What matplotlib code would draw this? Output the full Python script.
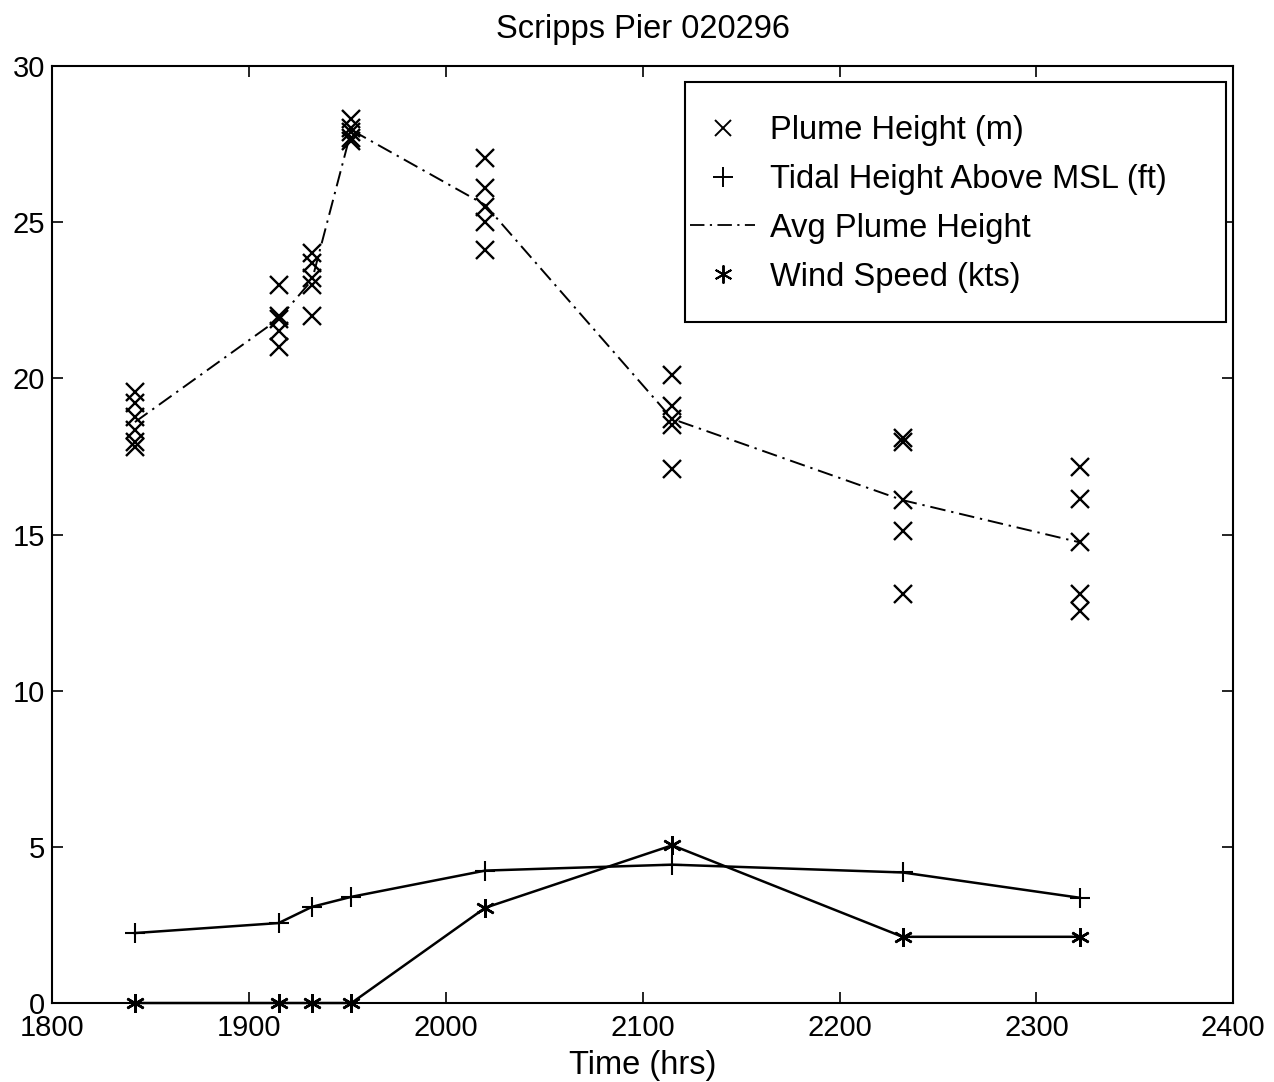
import matplotlib
matplotlib.use("Agg")
import matplotlib.pyplot as plt
import matplotlib.lines as mlines
from matplotlib.patches import Rectangle

plt.rcParams['font.family'] = ['Liberation Sans', 'DejaVu Sans']

# times of the samples (hrs)
times = [1842, 1915, 1932, 1952, 2020, 2115, 2232, 2322]

# individual plume heights (m) at each time
plume = [
    [19.55, 19.2, 18.75, 18.35, 17.95, 17.8],
    [23.0, 22.0, 21.9, 21.5, 21.0],
    [24.0, 23.7, 23.2, 23.0, 22.0],
    [28.3, 28.0, 27.9, 27.7, 27.6],
    [27.05, 26.1, 25.5, 25.0, 24.1],
    [20.1, 19.1, 18.7, 18.5, 17.1],
    [18.1, 17.95, 16.1, 15.1, 13.1],
    [17.15, 16.15, 14.75, 13.1, 12.55],
]
avg_plume = [18.6, 21.9, 23.15, 27.95, 25.55, 18.7, 16.1, 14.75]
tide = [2.24, 2.56, 3.08, 3.40, 4.24, 4.43, 4.18, 3.37]
wind = [0, 0, 0, 0, 3.05, 5.05, 2.12, 2.12]
labels = ['Plume Height (m)', 'Tidal Height Above MSL (ft)', 'Avg Plume Height', 'Wind Speed (kts)']

fig = plt.figure(figsize=(12.74, 10.82), dpi=100)
ax = fig.add_axes([0.041, 0.073, 0.927, 0.866])

star = (6, 2, 0)
dd = (8, 3, 1.2, 3)
px = [t for t, vals in zip(times, plume) for v in vals]
py = [v for vals in plume for v in vals]
ax.plot(px, py, 'kx', ms=12.5, mew=1.7, ls='none')
ax.plot(times, tide, 'k-', marker='+', ms=14, mew=1.5, lw=1.8)
ax.plot(times, avg_plume, color='k', lw=1.4, dashes=dd)
ax.plot(times, wind, 'k-', marker=star, ms=13.5, mew=1.8, lw=1.8, clip_on=False)

ax.set_xlim(1800, 2400)
ax.set_ylim(0, 30)
ax.set_xticks(range(1800, 2401, 100))
ax.set_yticks(range(0, 31, 5))
ax.tick_params(direction='in', top=True, right=True, labelsize=21, length=8, width=1.2)
ax.tick_params(axis='x', pad=8)
ax.tick_params(axis='y', pad=5)
for s in ax.spines.values():
    s.set_linewidth(1.5)

ax.set_title('Scripps Pier 020296', fontsize=23.5, pad=20)
ax.set_xlabel('Time (hrs)', fontsize=23.5, labelpad=6)

# legend box drawn separately (MATLAB-style padding)
ax.add_patch(Rectangle((0.536, 0.7268), 0.458, 0.256, transform=ax.transAxes,
                       fc='white', ec='k', lw=1.5, zorder=5))
h = [
    mlines.Line2D([], [], color='k', marker='x', ls='none', ms=12, mew=1.4),
    mlines.Line2D([], [], color='k', marker='+', ls='none', ms=14, mew=1.4),
    mlines.Line2D([], [], color='k', lw=1.3, dashes=dd),
    mlines.Line2D([], [], color='k', marker=star, ls='none', ms=13, mew=1.4),
]
leg = ax.legend(h, labels, loc='upper left', bbox_to_anchor=(0.540, 0.9474), fontsize=23.5,
                frameon=False, handlelength=2.0, handletextpad=0.46, borderpad=0,
                labelspacing=0.545, borderaxespad=0)
leg.set_zorder(6)

fig.savefig('out.png', dpi=100)
